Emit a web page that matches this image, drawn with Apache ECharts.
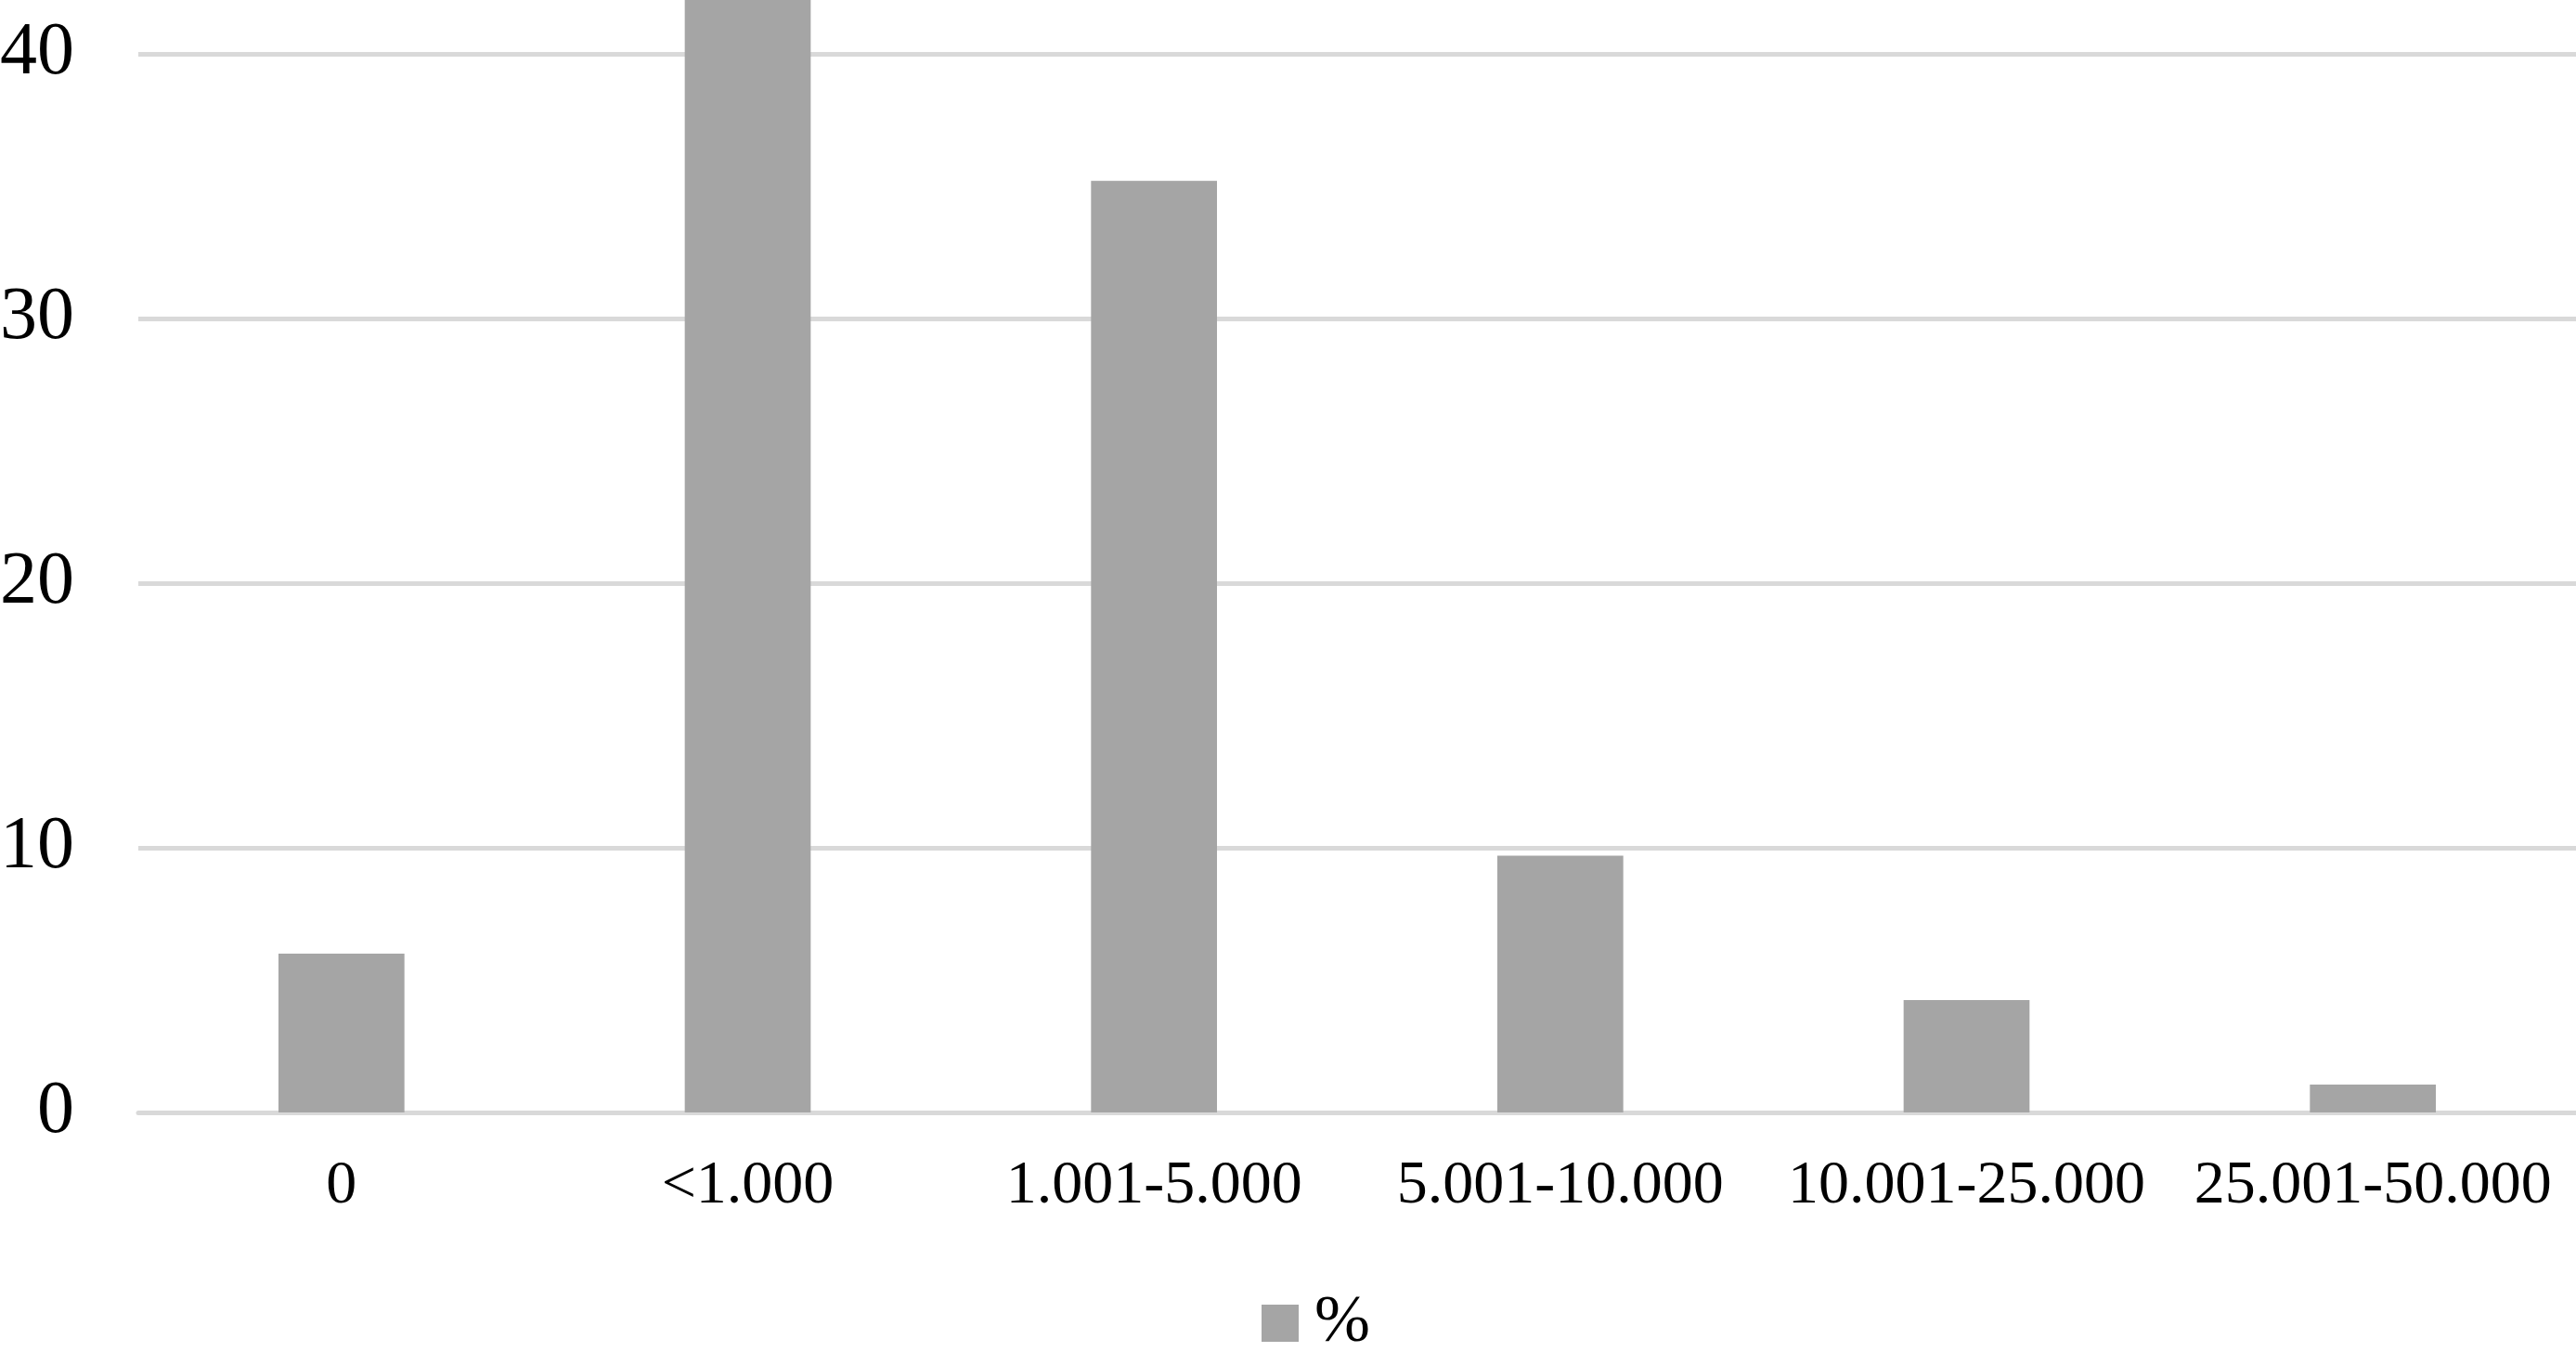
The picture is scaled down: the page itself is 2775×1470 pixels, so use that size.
<!DOCTYPE html>
<html>
<head>
<meta charset="utf-8">
<script src="https://cdn.jsdelivr.net/npm/echarts@6/dist/echarts.min.js"></script>
<style>html,body{margin:0;padding:0;background:#fff}#c{width:2775px;height:1470px}</style>
</head>
<body>
<div id="c"></div>
<script>
var categories = ['0', '<1.000', '1.001-5.000', '5.001-10.000', '10.001-25.000', '25.001-50.000'];
var seriesName = '%';
var values = [6.0, 43.8, 35.2, 9.7, 4.25, 1.05];
var yTicks = [0, 10, 20, 30, 40, 50];

var chart = echarts.init(document.getElementById('c'), null, {renderer: 'canvas'});
var FONT = '"Liberation Serif", "Times New Roman", serif';
chart.setOption({
  animation: false,
  backgroundColor: '#ffffff',
  grid: {left: 149, right: 0, top: -227, bottom: 272, containLabel: false, outerBoundsMode: 'none'},
  legend: {
    data: [seriesName],
    left: 1354, top: 1384,
    itemWidth: 40, itemHeight: 40,
    icon: 'rect',
    textStyle: {fontFamily: FONT, fontSize: 72, color: '#000', padding: [0, 0, 0, 12]}
  },
  xAxis: {
    type: 'category',
    data: categories,
    axisTick: {show: false},
    axisLine: {show: true, lineStyle: {color: '#d9d9d9', width: 5}},
    axisLabel: {fontFamily: FONT, fontSize: 66, color: '#000', margin: 47, interval: 0}
  },
  yAxis: {
    type: 'value',
    min: yTicks[0], max: yTicks[yTicks.length - 1], interval: 10,
    axisLine: {show: false},
    axisTick: {show: false},
    splitLine: {lineStyle: {color: '#d9d9d9', width: 5}},
    axisLabel: {fontFamily: FONT, fontSize: 80, color: '#000', margin: 69}
  },
  series: [{
    name: seriesName,
    type: 'bar',
    data: values,
    barWidth: '31%',
    itemStyle: {color: '#a5a5a5'}
  }]
});
</script>
</body>
</html>
